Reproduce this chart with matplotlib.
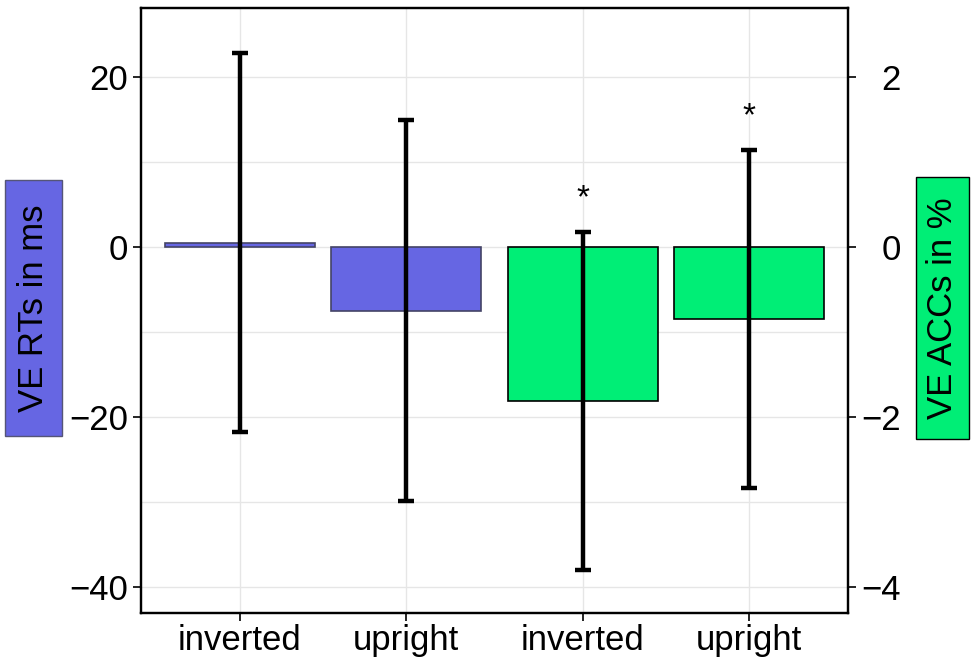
import matplotlib
matplotlib.use("Agg")
import matplotlib.pyplot as plt
import matplotlib.patches as mpatches
import numpy as np

plt.rcParams['font.family'] = ['Liberation Sans', 'DejaVu Sans']

# Data
categories = ["inverted", "upright", "inverted", "upright"]
measure = ["RT", "RT", "ACC", "ACC"]
rt_means = [0.5, -7.5]          # ms
rt_errors = [22.3, 22.4]        # ms
acc_means = [-1.815, -0.845]    # %
acc_errors = [1.99, 1.99]       # %
significant = [False, False, True, True]
acc_scale = 10.0                # left axis units per right axis unit

blue = "#6666E3"
green = "#00EE76"
FS = 25
W, H = 975, 659

fig = plt.figure(figsize=(9.75, 6.59), dpi=100)
ax = fig.add_axes([140.7/W, 1-613.3/H, (848.3-140.7)/W, (613.3-8.3)/H])

gap = 0.066
xpos = np.array([0, 1, 2 + gap, 3 + gap])
means = np.array(rt_means + [m * acc_scale for m in acc_means])
errs = np.array(rt_errors + [e * acc_scale for e in acc_errors])
colors = [blue, blue, green, green]
edges = ["#444466", "#444466", "black", "black"]

ax.bar(xpos, means, width=0.9, color=colors, edgecolor=edges, linewidth=1.2, zorder=2)
ax.errorbar(xpos, means, yerr=errs, fmt='none', ecolor='black', elinewidth=3.2,
            capsize=5.8, capthick=3.2, zorder=3)
for x, m, e, s in zip(xpos, means, errs, significant):
    if s:
        ax.text(x, m + e + 3.9, "*", ha='center', va='center', fontsize=24, zorder=4)

ax.set_xlim(-0.598, 3.664)
ax.set_ylim(-43.1, 28.1)
ax.set_yticks([-40, -20, 0, 20])
ax.set_yticks([-30, -10, 10], minor=True)
ax.set_xticks(xpos)
ax.set_xticklabels(categories)
ax.grid(True, which='both', color='#e6e6e6', linewidth=1.0, zorder=0)
ax.set_axisbelow(True)
ax.tick_params(axis='both', which='major', labelsize=FS, length=6, width=1.2, colors='black')
ax.tick_params(axis='y', which='minor', length=0)
ax.tick_params(axis='y', pad=3)
ax.tick_params(axis='x', pad=2)
for sp in ax.spines.values():
    sp.set_linewidth(1.6)
    sp.set_color('black')

ax2 = ax.twinx()
ax2.set_ylim(-43.1 / acc_scale, 28.1 / acc_scale)
ax2.set_yticks([-4, -2, 0, 2])
ax2.tick_params(axis='y', labelsize=FS, length=6, width=1.2, pad=(898 - 854) * 0.72)
for lab in ax2.get_yticklabels():
    lab.set_horizontalalignment('right')
for sp in ax2.spines.values():
    sp.set_linewidth(1.6)

# Axis titles as boxed labels
def boxed_label(x0, y0, x1, y1, text, face, edge):
    rect = mpatches.Rectangle((x0 / W, 1 - y1 / H), (x1 - x0) / W, (y1 - y0) / H,
                              transform=fig.transFigure, facecolor=face, edgecolor=edge,
                              linewidth=1.0, zorder=1)
    fig.add_artist(rect)
    fig.text((x0 + x1) / 2 / W, 1 - (y0 + y1) / 2 / H, text, rotation=90,
             ha='center', va='center', fontsize=FS, zorder=2)

boxed_label(5, 180, 62, 436, "VE RTs in ms", blue, "#555577")
boxed_label(916, 177, 969, 439, "VE ACCs in %", green, "black")

fig.savefig("out.png", dpi=100)
